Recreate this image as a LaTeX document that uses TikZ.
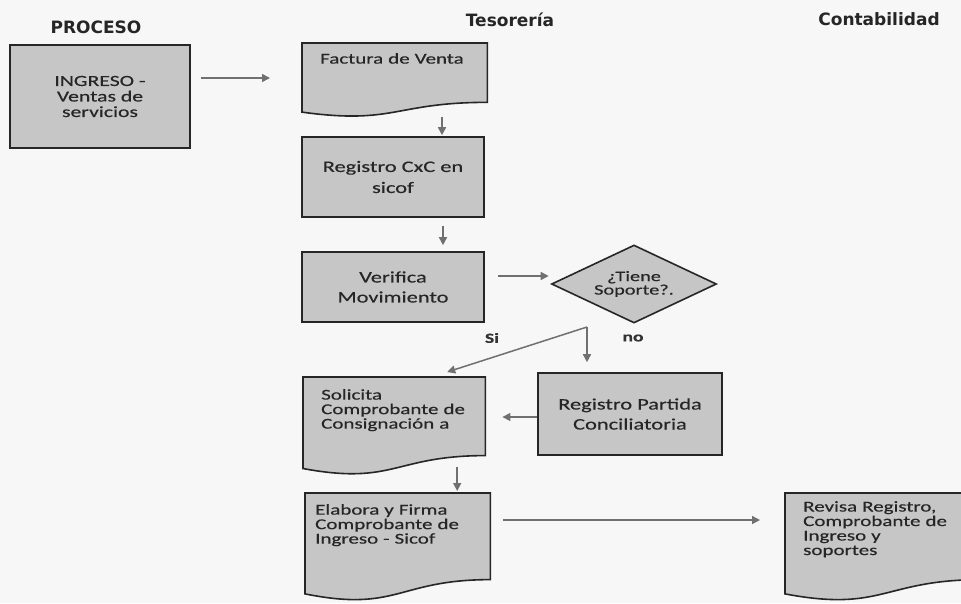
\documentclass[tikz,border=0pt]{standalone}
\usepackage{fontspec}
\setmainfont{Carlito}[FakeStretch=1.4,FakeBold=0.4]
\newfontfamily\hdfont{DejaVu Sans}
\usetikzlibrary{shapes.geometric,arrows.meta,calc,backgrounds}
\definecolor{boxfill}{HTML}{C6C6C6}
\definecolor{boxline}{HTML}{262626}
\definecolor{arrowc}{HTML}{707070}
\newcommand\docshape[2]{%
  \path[docpath] let \p1=(#1.north west), \p2=(#1.north east) in
    (\p1) -- (\p2) -- (\x2,{\y2-0.802*#2pt})
    .. controls ({0.5*\x1+0.5*\x2},{\y2-0.802*#2pt}) and ({0.5*\x1+0.5*\x2},{\y2-1.107*#2pt}) ..
    (\x1,{\y1-0.934*#2pt}) -- cycle;}
\begin{document}
\begin{tikzpicture}[x=1pt,y=-1pt,
  hdr/.style={font=\hdfont\bfseries\fontsize{17}{20}\selectfont, text=black!85},
  procbox/.style={draw=boxline, fill=boxfill, line width=1.6pt, align=center, inner sep=0pt, text=black!85},
  doctext/.style={anchor=north west, align=left, inner ysep=10pt, text=black!85, font=\fontsize{15}{14.5}\selectfont},
  docpath/.style={draw=boxline, fill=boxfill, line width=1.6pt},
  flow/.style={draw=arrowc, line width=1.5pt, -{Triangle[length=8pt,width=8pt]}},
  lbl/.style={font=\bfseries\fontsize{14}{16}\selectfont, text=black!80},
]
\useasboundingbox (0,0) rectangle (961,603);

% headers
\node[hdr] (hproc) at (96,27) {PROCESO};
\node[hdr] (htes) at (510,20) {Tesorería};
\node[hdr] (hcont) at (879,19) {Contabilidad};

% process boxes
\node[procbox, minimum width=180pt, minimum height=103pt, font=\fontsize{15.5}{15.5}\selectfont] (ingreso) at (100,96.5) {INGRESO -\\Ventas de\\servicios};
\node[procbox, minimum width=182pt, minimum height=80pt, font=\fontsize{16}{21}\selectfont] (regcxc) at (393,177) {Registro CxC en\\sicof};
\node[procbox, minimum width=182pt, minimum height=70pt, font=\fontsize{16}{20}\selectfont] (verifica) at (393,287) {Verifica\\Movimiento};
\node[procbox, minimum width=184pt, minimum height=82pt, font=\fontsize{16}{20}\selectfont] (regpart) at (630,414) {Registro Partida\\Conciliatoria};
\node[diamond, draw=boxline, fill=boxfill, line width=1.6pt, minimum width=165pt, minimum height=78pt, inner sep=0pt, aspect=2.1, align=center, text=black!85, font=\fontsize{14.5}{13.5}\selectfont] (tiene) at (634,284) {¿Tiene\\Soporte?.};

% document nodes (shapes drawn behind)
\node[doctext, inner xsep=18pt, text width=149pt] (factura) at (302,43) {Factura de Venta};
\node[doctext, inner xsep=18pt, text width=146pt, inner ysep=12pt] (solicita) at (303,377) {Solicita\\Comprobante de\\Consignación a};
\node[doctext, inner xsep=10pt, text width=165pt, inner ysep=11pt] (elabora) at (305,493) {Elabora y Firma\\Comprobante de\\Ingreso - Sicof};
\node[doctext, inner xsep=18pt, text width=160pt, inner ysep=8pt] (revisa) at (785,493) {Revisa Registro,\\Comprobante de\\Ingreso y\\soportes};

\begin{scope}[on background layer]
  \fill[white!97!black] (0,0) rectangle (961,603);
  \docshape{factura}{74}
  \docshape{solicita}{98}
  \docshape{elabora}{108}
  \docshape{revisa}{108}
\end{scope}

% connectors
\draw[flow, shorten <=10pt, shorten >=32pt] ([yshift=18.5pt]ingreso.east) -- ([yshift=18.5pt]ingreso.east -| factura.west);
\draw[flow] ([xshift=49pt,yshift=19pt]regcxc.north) -- ([xshift=49pt,yshift=1pt]regcxc.north);
\draw[flow] ([xshift=50pt,yshift=-8pt]regcxc.south) -- ([xshift=50pt,yshift=6pt]verifica.north);
\draw[flow, shorten <=13pt, shorten >=2pt] ([yshift=11pt]verifica.east) -- ([yshift=11pt]verifica.east -| tiene.west);
\coordinate (split) at (587,327);
\draw[flow] (split) -- ([xshift=53pt,yshift=5pt]solicita.north);
\draw[flow, shorten >=10pt] (split) -- (split |- regpart.north);
\draw[flow, shorten >=17pt] ([yshift=-3pt]regpart.west) -- ([yshift=-3pt]regpart.west -| solicita.east);
\draw[flow] ([xshift=59.5pt,yshift=26pt]elabora.north) -- ([xshift=59.5pt,yshift=2pt]elabora.north);
\draw[flow, shorten <=13pt, shorten >=25pt] ([yshift=-27pt]elabora.north east) -- ([yshift=-27pt]elabora.north east -| revisa.west);

% branch labels
\node[lbl] (si) at (492,338) {Si};
\node[lbl] (no) at (633,338) {no};
\end{tikzpicture}
\end{document}
